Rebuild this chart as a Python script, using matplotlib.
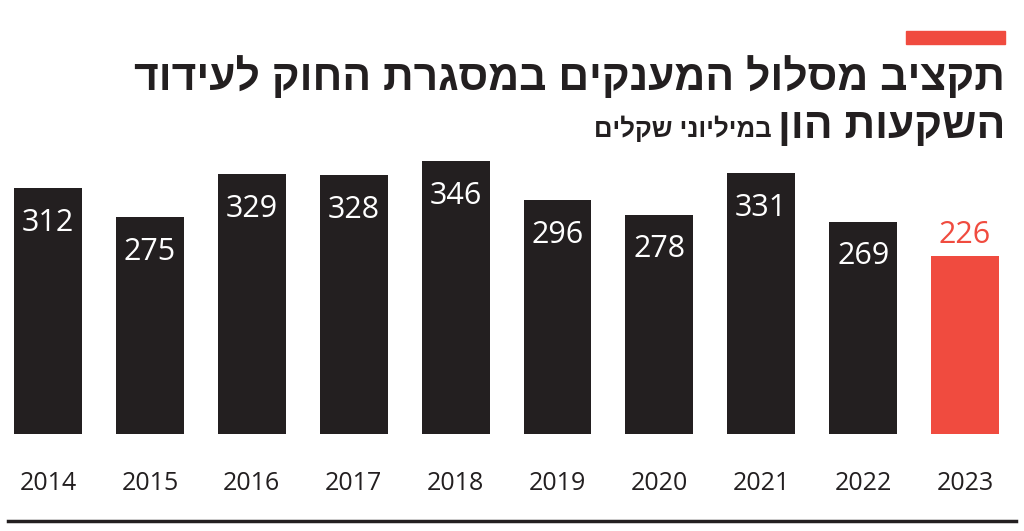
import matplotlib
matplotlib.use("Agg")
import matplotlib.pyplot as plt
from matplotlib.patches import Rectangle

years = ['2014', '2015', '2016', '2017', '2018', '2019', '2020', '2021', '2022', '2023']
values = [312, 275, 329, 328, 346, 296, 278, 331, 269, 226]
title1 = 'תקציב מסלול המענקים במסגרת החוק לעידוד'
title2 = 'השקעות הון'
unit = 'במיליוני שקלים'

dark = '#231f20'
red = '#f04b3f'

def heb(s):
    # matplotlib has no bidi, reverse for display
    return s[::-1]

fig = plt.figure(figsize=(10.24, 5.31), dpi=100)
W, H = 1024, 531

ax = fig.add_axes([0, 97 / H, 1, 300 / H])
x = list(range(len(years)))
colors = [dark] * (len(years) - 1) + [red]
ax.bar(x, values, width=0.667, color=colors)
ax.set_xlim((0 - 48) / 101.9, (W - 48) / 101.9)
ax.set_ylim(0, 300 / 0.789)
ax.axis('off')

numfont = ['Open Sans', 'DejaVu Sans']
for i, v in enumerate(values):
    if i == len(values) - 1:
        ax.annotate(str(v), (i, v), xytext=(0, 15), textcoords='offset points',
                    ha='center', va='center', color=red, fontsize=22, family=numfont)
    else:
        ax.annotate(str(v), (i, v), xytext=(0, -25), textcoords='offset points',
                    ha='center', va='center', color='white', fontsize=22,
                    fontweight='medium', family=numfont)
    ax.annotate(years[i], (i, 0), xytext=(0, -36), textcoords='offset points',
                ha='center', va='center', color=dark, fontsize=18, family=numfont)

# red accent and bottom rule
fig.patches.append(Rectangle((906 / W, 1 - 44 / H), 99 / W, 13 / H,
                             transform=fig.transFigure, color=red))
fig.add_artist(plt.Line2D([8 / W, 1016 / W], [1 - 521 / H, 1 - 521 / H],
                          transform=fig.transFigure, color=dark, lw=2.5))

tf = ['Liberation Sans', 'DejaVu Sans']
fig.text(1005 / W, 1 - 78 / H, heb(title1), ha='right', va='center',
         fontsize=30.7, fontweight='bold', color=dark, family=tf)
fig.text(1005 / W, 1 - 127 / H, heb(title2), ha='right', va='center',
         fontsize=30.7, fontweight='bold', color=dark, family=tf)
fig.text(772 / W, 1 - 129 / H, heb(unit), ha='right', va='center',
         fontsize=18.5, fontweight='bold', color=dark, family=tf)

fig.savefig('out.png', dpi=100)
